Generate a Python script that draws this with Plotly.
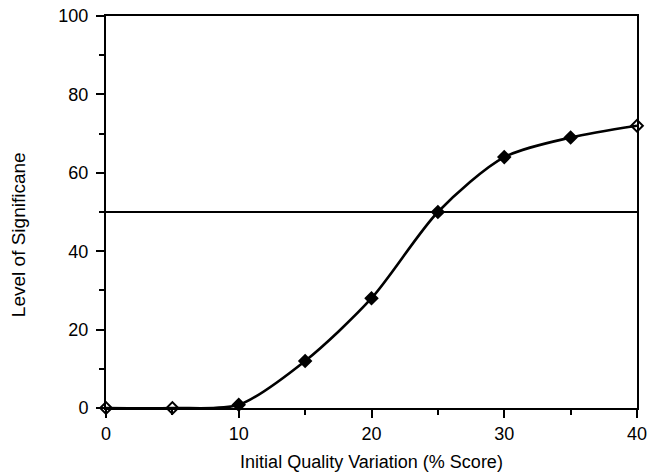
import plotly.graph_objects as go

x_vals = [0, 5, 10, 15, 20, 25, 30, 35, 40]
y_vals = [0, 0, 0.8, 12, 28, 50, 64, 69, 72]
open_marker = [True, True, False, False, False, False, False, False, True]
ref_level = 50
x_ticks = [0, 10, 20, 30, 40]
y_ticks = [0, 20, 40, 60, 80, 100]

FONT = "Liberation Sans, Arial"

fig = go.Figure()
fig.add_trace(go.Scatter(
    x=[x_vals[0], x_vals[-1]], y=[ref_level, ref_level], mode="lines",
    line=dict(color="black", width=2), hoverinfo="skip", showlegend=False))
fig.add_trace(go.Scatter(
    x=x_vals, y=y_vals, mode="lines",
    line=dict(color="black", width=2.6, shape="spline", smoothing=0.8),
    showlegend=False))
fig.add_trace(go.Scatter(
    x=x_vals, y=y_vals, mode="markers",
    marker=dict(symbol=["diamond-open" if o else "diamond" for o in open_marker],
                size=9, color="black", line=dict(color="black", width=2)),
    showlegend=False))

axis_common = dict(showline=True, linecolor="black", linewidth=2, mirror=True,
                   ticks="outside", ticklen=8, tickwidth=2, tickcolor="black",
                   showgrid=False, zeroline=False, automargin=False,
                   tickfont=dict(family=FONT, size=18, color="black"))
fig.update_xaxes(range=[0, 40], tickvals=x_ticks, **axis_common,
                 minor=dict(dtick=5, ticklen=5, tickwidth=2, tickcolor="black", ticks="outside"),
                 title=dict(text="Initial Quality Variation (% Score)",
                            font=dict(family=FONT, size=18, color="black")))
fig.update_yaxes(range=[0, 100], tickvals=y_ticks, **axis_common, ticklabelstandoff=4,
                 minor=dict(dtick=10, ticklen=5, tickwidth=2, tickcolor="black", ticks="outside"))
fig.add_annotation(text="Level of Significane", xref="paper", yref="paper",
                   x=0, xshift=-88, y=0.441, xanchor="center", yanchor="middle",
                   textangle=-90, showarrow=False,
                   font=dict(family=FONT, size=19, color="black"))
fig.update_layout(width=648, height=472, margin=dict(l=106, r=11, t=16, b=64),
                  plot_bgcolor="white", paper_bgcolor="white")
fig.update_traces(cliponaxis=False)
fig.write_html("out.html")
